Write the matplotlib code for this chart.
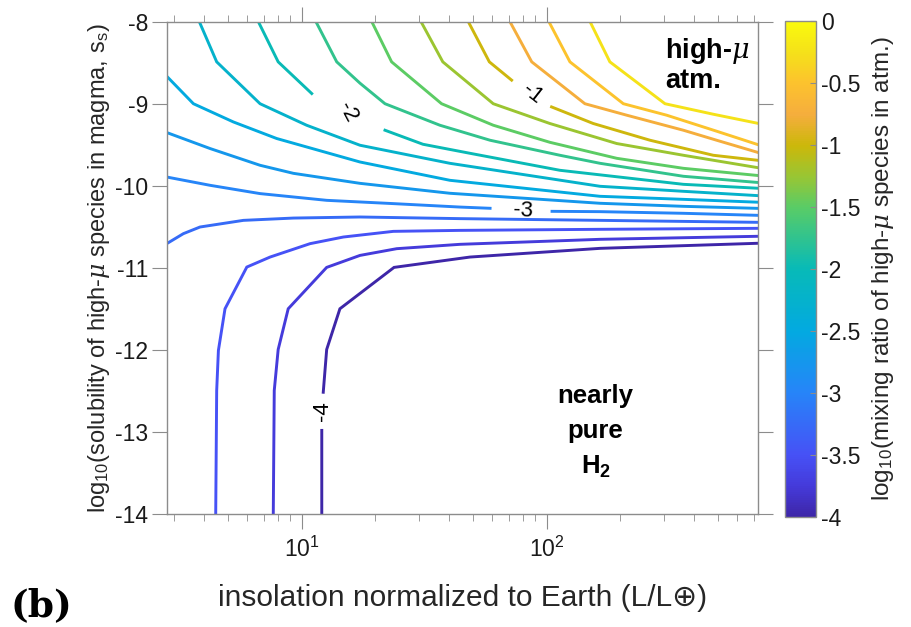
import numpy as np
import matplotlib
matplotlib.use("Agg")
import matplotlib.pyplot as plt
from matplotlib.colors import LinearSegmentedColormap, Normalize
from matplotlib.cm import ScalarMappable
from matplotlib.ticker import LogLocator, LogFormatterMathtext, NullFormatter

plt.rcParams["font.family"] = ["Liberation Sans", "DejaVu Sans"]
plt.rcParams["axes.unicode_minus"] = False
plt.rcParams["mathtext.fontset"] = "custom"
plt.rcParams["mathtext.rm"] = "Liberation Sans"
plt.rcParams["mathtext.it"] = "DejaVu Serif:italic"
plt.rcParams["mathtext.bf"] = "Liberation Sans:bold"

# contour levels of log10(mixing ratio)
levels = [-0.25, -0.5, -0.75, -1.0, -1.25, -1.5, -1.75, -2.0,
          -2.25, -2.5, -2.75, -3.0, -3.25, -3.5, -3.75, -4.0]

# contour paths: log10(insolation) and log10(solubility); nan marks a label gap
c025_logL = [2.177, 2.258, 2.483, 2.680, 2.864]
c025_logS = [-8.0, -8.49, -9.0, -9.128, -9.24]
c050_logL = [2.009, 2.095, 2.313, 2.490, 2.694, 2.864]
c050_logS = [-8.0, -8.49, -9.0, -9.14, -9.335, -9.50]
c075_logL = [1.850, 1.939, 2.054, 2.156, 2.327, 2.558, 2.694, 2.864]
c075_logS = [-8.0, -8.49, -8.76, -9.0, -9.14, -9.323, -9.445, -9.595]
c100_logL = [1.680, 1.766, 1.857, np.nan, 2.020, 2.190, 2.422, 2.680, 2.864]
c100_logS = [-8.0, -8.49, -8.713, np.nan, -9.039, -9.241, -9.445, -9.628, -9.69]
c125_logL = [1.487, 1.576, 1.782, 2.013, 2.286, 2.558, 2.864]
c125_logS = [-8.0, -8.49, -9.0, -9.241, -9.485, -9.628, -9.78]
c150_logL = [1.286, 1.367, 1.571, 1.782, 2.013, 2.286, 2.558, 2.864]
c150_logS = [-8.0, -8.49, -9.0, -9.262, -9.47, -9.665, -9.787, -9.875]
c175_logL = [1.058, 1.143, 1.238, 1.340, 1.564, 1.769, 2.054, 2.218, 2.558, 2.864]
c175_logS = [-8.0, -8.49, -8.75, -9.0, -9.262, -9.445, -9.628, -9.726, -9.884, -9.96]
c200_logL = [0.823, 0.904, 1.041, np.nan, 1.340, 1.495, 1.687, 2.054, 2.558, 2.864]
c200_logS = [-8.0, -8.49, -8.876, np.nan, -9.323, -9.494, -9.604, -9.811, -9.982, -10.03]
c225_logL = [0.582, 0.653, 0.830, 1.020, 1.238, 1.605, 2.218, 2.558, 2.864]
c225_logS = [-8.0, -8.49, -9.0, -9.262, -9.506, -9.726, -10.006, -10.067, -10.12]
c250_logL = [0.449, 0.558, 0.721, 0.898, 1.238, 1.605, 2.218, 2.558, 2.864]
c250_logS = [-8.665, -9.0, -9.222, -9.424, -9.71, -9.933, -10.128, -10.165, -10.2]
c275_logL = [0.449, 0.626, 0.830, 0.966, 1.238, 1.605, 2.218, 2.558, 2.864]
c275_logS = [-9.351, -9.546, -9.75, -9.848, -9.97, -10.091, -10.213, -10.25, -10.275]
c300_logL = [0.449, 0.626, 0.830, 1.102, 1.374, 1.646, 1.769, np.nan, 2.022, 2.218, 2.558, 2.864]
c300_logS = [-9.893, -9.994, -10.095, -10.177, -10.217, -10.259, -10.274, np.nan, -10.311, -10.315, -10.335, -10.36]
c325_logL = [0.449, 0.517, 0.585, 0.762, 0.966, 1.238, 1.646, 2.218, 2.864]
c325_logS = [-10.705, -10.583, -10.502, -10.421, -10.393, -10.38, -10.4, -10.421, -10.445]
c350_logL = [0.649, 0.653, 0.660, 0.687, 0.776, 0.871, 1.034, 1.170, 1.374, 1.646, 2.218, 2.864]
c350_logS = [-14.0, -12.494, -12.006, -11.498, -10.99, -10.868, -10.705, -10.624, -10.555, -10.543, -10.53, -10.518]
c375_logL = [0.884, 0.888, 0.904, 0.945, 1.102, 1.238, 1.388, 1.646, 2.218, 2.864]
c375_logS = [-14.0, -12.494, -11.994, -11.498, -10.994, -10.848, -10.766, -10.713, -10.652, -10.615]
c400_logL = [1.082, 1.082, np.nan, 1.088, 1.102, 1.156, 1.377, 1.687, 2.218, 2.864]
c400_logS = [-14.0, -12.98, np.nan, -12.515, -11.994, -11.498, -10.994, -10.868, -10.762, -10.70]

# inline contour labels: value, log10(insolation), log10(solubility), rotation
label_vals = [-1, -2, -3, -4]
label_logL = [1.939, 1.185, 1.905, 1.085]
label_logS = [-8.885, -9.10, -10.30, -12.75]
label_rot = [-38, -62, -2, 90]

cbar_ticks = [0, -0.5, -1, -1.5, -2, -2.5, -3, -3.5, -4]
ytick_vals = [-8, -9, -10, -11, -12, -13, -14]

paths = [
    (c025_logL, c025_logS), (c050_logL, c050_logS), (c075_logL, c075_logS),
    (c100_logL, c100_logS), (c125_logL, c125_logS), (c150_logL, c150_logS),
    (c175_logL, c175_logS), (c200_logL, c200_logS), (c225_logL, c225_logS),
    (c250_logL, c250_logS), (c275_logL, c275_logS), (c300_logL, c300_logS),
    (c325_logL, c325_logS), (c350_logL, c350_logS), (c375_logL, c375_logS),
    (c400_logL, c400_logS),
]

# parula-like colormap
parula = LinearSegmentedColormap.from_list("parula_like", [
    (0.000, (0.243, 0.150, 0.660)),
    (0.0625, (0.270, 0.230, 0.860)),
    (0.125, (0.275, 0.320, 0.965)),
    (0.250, (0.150, 0.520, 0.975)),
    (0.375, (0.010, 0.665, 0.880)),
    (0.500, (0.030, 0.730, 0.720)),
    (0.625, (0.350, 0.800, 0.400)),
    (0.6875, (0.600, 0.775, 0.200)),
    (0.750, (0.800, 0.720, 0.040)),
    (0.8125, (0.960, 0.680, 0.240)),
    (0.875, (0.990, 0.760, 0.180)),
    (0.9375, (0.960, 0.880, 0.100)),
    (1.000, (0.980, 0.980, 0.050)),
])
norm = Normalize(vmin=-4, vmax=0)

fig = plt.figure(figsize=(9.11, 6.27), dpi=100)
ax = fig.add_axes([0.183, 0.180, 0.6494, 0.7855])
cax = fig.add_axes([0.8617, 0.1754, 0.0337, 0.791])

for lev, (lx, ly) in zip(levels, paths):
    ax.plot(np.power(10.0, lx), ly, color=parula(norm(lev)), lw=2.1,
            solid_joinstyle="miter")

for v, lx, ly, r in zip(label_vals, label_logL, label_logS, label_rot):
    ax.text(10 ** lx, ly, f"{v}", rotation=r, ha="center", va="center",
            fontsize=16, rotation_mode="anchor")

ax.text(10 ** 2.483, -8.17, "high-$\\mu$\natm.", fontsize=19.5, fontweight="bold",
        ha="left", va="top", linespacing=1.1)
ax.text(10 ** 2.2, -13.0, "nearly\npure\nH$_\\mathbf{2}$", fontsize=18.5,
        fontweight="bold", ha="center", va="center", linespacing=1.55)

ax.set_xscale("log")
ax.set_xlim(10 ** 0.449, 10 ** 2.864)
ax.set_ylim(-14, -8)
ax.set_yticks(ytick_vals)
ax.set_yticklabels([str(v) for v in ytick_vals])
ax.xaxis.set_major_locator(LogLocator(base=10))
ax.xaxis.set_major_formatter(LogFormatterMathtext())
ax.xaxis.set_minor_locator(LogLocator(base=10, subs=np.arange(2, 10)))
ax.xaxis.set_minor_formatter(NullFormatter())

gray = "#8c8c8c"
for s in ax.spines.values():
    s.set_color(gray)
    s.set_linewidth(1.0)
ax.tick_params(which="both", direction="out", top=True, right=True,
               color=gray, labelsize=16.5, labelcolor="#1a1a1a")
ax.tick_params(which="major", length=10.5, pad=3)
ax.tick_params(which="minor", length=5.2)
ax.tick_params(axis="x", which="major", pad=6)

ax.set_xlabel("insolation normalized to Earth (L/L\u2295)", fontsize=21.5,
              color="#262626", labelpad=16)
ax.set_ylabel("log$_{10}$(solubility of high-$\\mu$ species in magma, s$_\\mathrm{s}$)",
              fontsize=17, color="#262626", labelpad=2)

sm = ScalarMappable(norm=norm, cmap=parula)
cb = fig.colorbar(sm, cax=cax)
cb.set_ticks(cbar_ticks)
cb.set_ticklabels([f"{v:g}" for v in cbar_ticks])
cb.outline.set_edgecolor(gray)
cb.outline.set_linewidth(1.0)
cax.tick_params(direction="in", length=4, color=gray, labelsize=16.5,
                labelcolor="#1a1a1a", pad=4)
cb.set_label("log$_{10}$(mixing ratio of high-$\\mu$ species in atm.)",
             fontsize=17.5, color="#262626", labelpad=7)

fig.text(0.011, 0.018, "(b)", fontsize=27, fontweight="bold",
         family="DejaVu Serif", ha="left", va="baseline")

fig.savefig("out.png", dpi=100)
